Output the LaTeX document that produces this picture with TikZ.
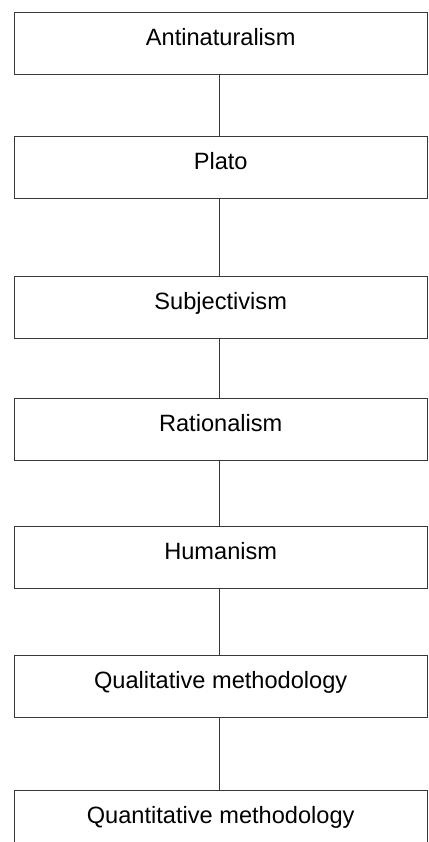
\documentclass[tikz,border=0pt]{standalone}
\usepackage{fontspec}
\setmainfont{Liberation Sans}
\begin{document}
\begin{tikzpicture}[x=1pt,y=1pt,
  stage/.style={draw=black!78, line width=1pt, rectangle, anchor=north,
    minimum width=413pt, minimum height=62pt, inner xsep=4pt, inner ysep=8pt,
    text height=25pt, text depth=21pt, font=\fontsize{23.6}{28}\selectfont},
  link/.style={draw=black!78, line width=1pt}]
  \useasboundingbox (0,0) rectangle (428,-842);
  \clip (0,0) rectangle (428,-842);
  \node[stage] (anti)  at (220.7,-12)  {Antinaturalism};
  \node[stage] (plato) at (220.7,-136) {Plato};
  \node[stage] (subj)  at (220.7,-276) {Subjectivism};
  \node[stage] (rat)   at (220.7,-398) {Rationalism};
  \node[stage] (hum)   at (220.7,-526) {Humanism};
  \node[stage] (qual)  at (220.7,-655) {Qualitative methodology};
  \node[stage] (quant) at (220.7,-790) {Quantitative methodology};
  \foreach \a/\b in {anti/plato, plato/subj, subj/rat, rat/hum, hum/qual, qual/quant}
    \draw[link] ([xshift=-1.7pt]\a.south) -- ([xshift=-1.7pt]\b.north);
\end{tikzpicture}
\end{document}
